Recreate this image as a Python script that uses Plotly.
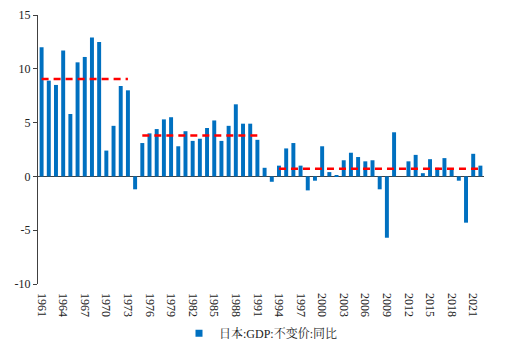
import plotly.graph_objects as go

years = list(range(1961, 2023))
growth = [12.0, 8.9, 8.5, 11.7, 5.8, 10.6, 11.1, 12.9, 12.5, 2.4,
          4.7, 8.4, 8.0, -1.2, 3.1, 4.0, 4.4, 5.3, 5.5, 2.8,
          4.2, 3.3, 3.5, 4.5, 5.2, 3.3, 4.7, 6.7, 4.9, 4.9,
          3.4, 0.8, -0.5, 1.0, 2.6, 3.1, 1.0, -1.3, -0.4, 2.8,
          0.4, 0.1, 1.5, 2.2, 1.8, 1.4, 1.5, -1.2, -5.7, 4.1,
          0.0, 1.4, 2.0, 0.3, 1.6, 0.8, 1.7, 0.6, -0.4, -4.3,
          2.1, 1.0]

avg_start = [1961, 1975, 1994]
avg_end = [1973, 1991.5, 2022]
avg_value = [9.05, 3.8, 0.7]

tick_years = list(range(1961, 2023, 3))
y_ticks = [-10, -5, 0, 5, 10, 15]

serif = "Liberation Serif, Times New Roman, serif"
series_name = "日本:GDP:不变价:同比"
bar_color = "#0070C0"

fig = go.Figure()
fig.add_trace(go.Bar(x=years, y=growth, name=series_name, showlegend=False,
                     marker=dict(color=bar_color, line=dict(width=0)),
                     width=0.55))
# legend-only entry with a small square symbol
fig.add_trace(go.Scatter(x=[None], y=[None], mode="markers", name=series_name,
                         marker=dict(symbol="square", size=7, color=bar_color)))
for s, e, v in zip(avg_start, avg_end, avg_value):
    fig.add_trace(go.Scatter(x=[s, e], y=[v, v], mode="lines", showlegend=False,
                             line=dict(color="#FF0000", width=2.5, dash="7px,5px"),
                             hoverinfo="skip"))

fig.update_layout(
    width=508, height=353,
    margin=dict(l=38, r=24, t=15, b=69, autoexpand=False),
    paper_bgcolor="white", plot_bgcolor="white",
    font=dict(family=serif, size=12, color="#222222"),
    legend=dict(orientation="h", x=0.5, xanchor="center", y=-0.183, yanchor="middle",
                itemwidth=30,
                font=dict(family="Liberation Serif, Noto Serif CJK SC, Noto Sans CJK SC, serif",
                          size=12)),
)
fig.update_xaxes(range=[1960.5, 2022.5], tickmode="array", tickvals=tick_years,
                 ticktext=[str(y) for y in tick_years], tickangle=90,
                 showgrid=False, zeroline=False, showline=False, ticks="",
                 ticklabelstandoff=8, automargin=False,
                 tickfont=dict(family=serif, size=12))
fig.update_yaxes(range=[-10, 15], tickmode="array", tickvals=y_ticks,
                 ticktext=[str(t) for t in y_ticks], showgrid=False, zeroline=True,
                 zerolinecolor="#404040", zerolinewidth=1,
                 showline=True, linecolor="#404040", linewidth=1,
                 ticks="outside", ticklen=4, tickcolor="#404040", automargin=False,
                 tickfont=dict(family=serif, size=12))

fig.write_html("out.html")
